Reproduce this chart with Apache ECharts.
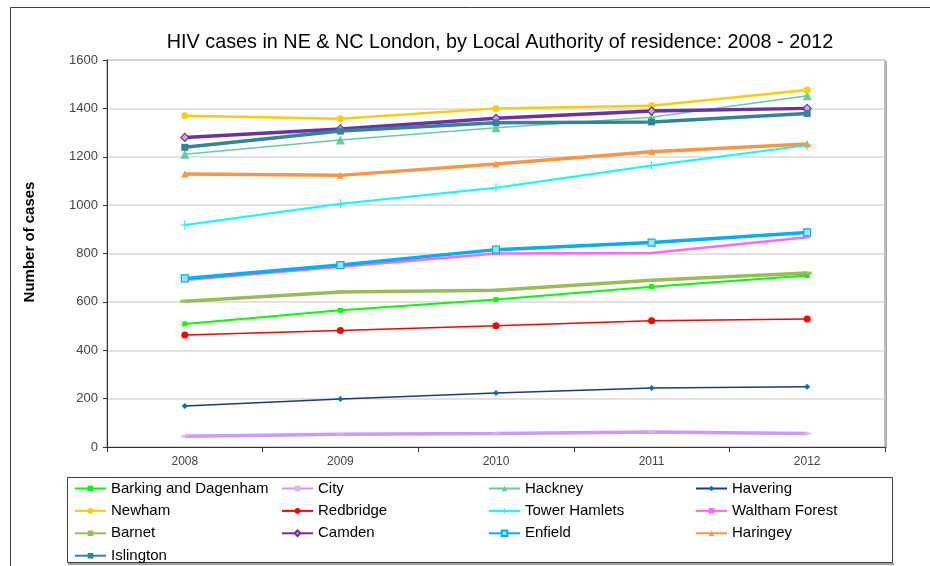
<!DOCTYPE html>
<html>
<head>
<meta charset="utf-8">
<script src="https://cdn.jsdelivr.net/npm/echarts@6/dist/echarts.min.js"></script>
<style>
html,body{margin:0;padding:0;background:#fff;}
#chart{width:930px;height:566px;}
</style>
</head>
<body>
<div id="chart"></div>
<script>
// ---- data ----
var years = ['2008', '2009', '2010', '2011', '2012'];
var yTicks = [0, 200, 400, 600, 800, 1000, 1200, 1400, 1600];
var barkingDagenham = [509, 565, 610, 663, 709];
var city = [44, 53, 56, 62, 56];
var hackney = [1210, 1269, 1320, 1363, 1452];
var havering = [169, 198, 223, 244, 249];
var newham = [1370, 1357, 1400, 1411, 1476];
var redbridge = [463, 482, 501, 522, 529];
var towerHamlets = [918, 1006, 1072, 1164, 1248];
var walthamForest = [690, 745, 800, 802, 867];
var barnet = [603, 641, 648, 689, 719];
var camden = [1280, 1315, 1359, 1389, 1400];
var enfield = [697, 752, 816, 845, 887];
var haringey = [1129, 1123, 1170, 1221, 1253];
var islington = [1239, 1306, 1341, 1344, 1379];

var FONT = 'Liberation Sans, Arial, sans-serif';
var PLUS = 'path://M4.4,0H5.6V4.4H10V5.6H5.6V10H4.4V5.6H0V4.4H4.4Z';

function s(name, data, line, width, symbol, size, fill, border) {
  return {
    name: name, type: 'line', data: data,
    symbol: symbol, symbolSize: size,
    lineStyle: { color: line, width: width },
    itemStyle: { color: fill || line, borderColor: border || fill || line, borderWidth: border ? 1.2 : 0 },
    emphasis: { disabled: true },
    animation: false
  };
}

var series = [
  s('Barking and Dagenham', barkingDagenham, '#00FF00', 2, 'rect', 5),
  s('City', city, '#CC99FF', 3.5, 'rect', [7, 2], '#E0B0FF'),
  s('Hackney', hackney, '#66CC99', 1.5, 'triangle', 9, '#66CC99'),
  s('Havering', havering, '#1F3A75', 1.5, 'diamond', 6, '#0070C0'),
  s('Newham', newham, '#FFCC00', 2.5, 'circle', 7),
  s('Redbridge', redbridge, '#FF0000', 1.5, 'circle', 7),
  s('Tower Hamlets', towerHamlets, '#00FFFF', 2, PLUS, 9),
  s('Waltham Forest', walthamForest, '#FF66FF', 2.5, 'rect', [6, 2]),
  s('Barnet', barnet, '#9BBB59', 3.5, 'rect', [9, 3]),
  s('Camden', camden, '#7030A0', 3.5, 'diamond', 8, '#C8A8E8', '#7030A0'),
  s('Enfield', enfield, '#00B0F0', 3.5, 'rect', 7, '#9FE0FA', '#00B0F0'),
  s('Haringey', haringey, '#F79646', 3.5, 'triangle', 7),
  s('Islington', islington, '#31849B', 3.5, 'rect', 7)
];

function legendCol(left, names) {
  return {
    orient: 'vertical', left: left, top: 481, padding: 0,
    itemWidth: 31, itemHeight: 7, itemGap: 7.4,
    data: names,
    textStyle: { fontFamily: FONT, fontSize: 15, color: '#000' },
    selectedMode: false
  };
}

var chart = echarts.init(document.getElementById('chart'));
chart.setOption({
  backgroundColor: '#fff',
  animation: false,
  title: {
    text: 'HIV cases in NE & NC London, by Local Authority of residence: 2008 - 2012',
    left: 495, top: 28, textAlign: 'center',
    textStyle: { fontFamily: FONT, fontSize: 19.8, fontWeight: 'normal', color: '#000' }
  },
  legend: [
    legendCol(74, ['Barking and Dagenham', 'Newham', 'Barnet', 'Islington']),
    legendCol(281, ['City', 'Redbridge', 'Camden']),
    legendCol(488, ['Hackney', 'Tower Hamlets', 'Enfield']),
    legendCol(695, ['Havering', 'Waltham Forest', 'Haringey'])
  ],
  grid: { left: 107, right: 45, top: 60, bottom: 119, show: true, borderColor: '#8C8C8C', borderWidth: 1 },
  xAxis: {
    type: 'category', data: years, boundaryGap: true,
    axisLine: { lineStyle: { color: '#333', width: 1 } },
    axisTick: { show: true, alignWithLabel: false, length: 5, lineStyle: { color: '#333' } },
    axisLabel: { fontFamily: FONT, fontSize: 12, color: '#444', margin: 9 },
    splitLine: { show: false }
  },
  yAxis: {
    type: 'value', min: yTicks[0], max: yTicks[yTicks.length - 1], interval: 200,
    axisLine: { show: true, lineStyle: { color: '#333', width: 1 } },
    axisTick: { show: true, length: 4, lineStyle: { color: '#333' } },
    axisLabel: { fontFamily: FONT, fontSize: 13, color: '#444', margin: 9, formatter: function (v) { return String(v); } },
    splitLine: { show: true, lineStyle: { color: '#D9D9D9', width: 1.5 } }
  },
  graphic: [
    { type: 'line', shape: { x1: 10.5, y1: 7.5, x2: 930, y2: 7.5 }, style: { stroke: '#404040', lineWidth: 1 }, silent: true },
    { type: 'line', shape: { x1: 10.5, y1: 7.5, x2: 10.5, y2: 566 }, style: { stroke: '#404040', lineWidth: 1 }, silent: true },
    { type: 'rect', shape: { x: 67.5, y: 477.5, width: 825, height: 85 }, style: { fill: 'none', stroke: '#404040', lineWidth: 1 }, silent: true, z: -1 },
    { type: 'line', shape: { x1: 68, y1: 564, x2: 894, y2: 564 }, style: { stroke: '#A0A0A0', lineWidth: 2 }, silent: true },
    { type: 'line', shape: { x1: 886, y1: 61, x2: 886, y2: 448 }, style: { stroke: '#B0B0B0', lineWidth: 2 }, silent: true },
    { type: 'text', x: 30, y: 242, rotation: Math.PI / 2,
      style: { text: 'Number of cases', fontFamily: FONT, fontSize: 15, fontWeight: 'bold', fill: '#000', textAlign: 'center', textVerticalAlign: 'middle' }, silent: true }
  ],
  series: series
});
</script>
</body>
</html>
